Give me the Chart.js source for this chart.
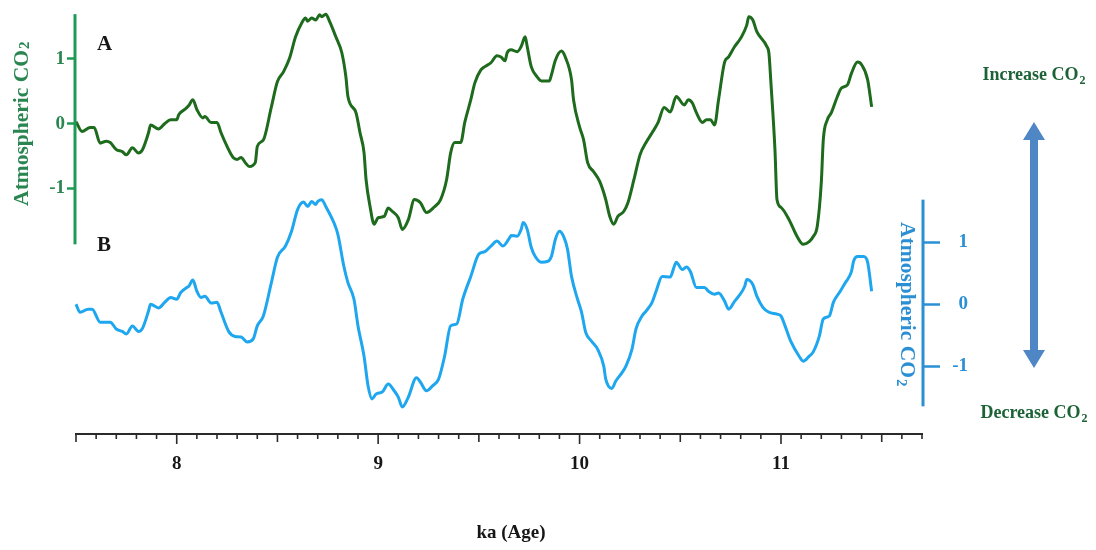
<!DOCTYPE html>
<html>
<head>
<meta charset="utf-8">
<script src="https://cdn.jsdelivr.net/npm/chart.js@4.4.0/dist/chart.umd.min.js"></script>
<style>
  html, body { margin: 0; padding: 0; background: #fff; }
  #wrap { width: 1096px; height: 550px; position: relative; }
</style>
</head>
<body>
<div id="wrap"><canvas id="co2Chart"></canvas></div>
<script>
// record A (green, left axis)
var ageA = [7.50, 7.53, 7.57, 7.59, 7.62, 7.65, 7.67, 7.70, 7.73, 7.75, 7.78, 7.81, 7.83, 7.86, 7.87, 7.91, 7.94, 7.97,
  8.00, 8.01, 8.04, 8.06, 8.08, 8.10, 8.13, 8.14, 8.17, 8.20, 8.22, 8.25, 8.28, 8.30, 8.32, 8.34, 8.36, 8.39, 8.40, 8.43,
  8.47, 8.50, 8.53, 8.56, 8.59, 8.62, 8.64, 8.65, 8.67, 8.69, 8.71, 8.72, 8.74, 8.76, 8.79, 8.82, 8.84, 8.85, 8.89, 8.91,
  8.93, 8.94, 8.96, 8.98, 9.00, 9.03, 9.05, 9.07, 9.10, 9.12, 9.15, 9.18, 9.21, 9.24, 9.28, 9.31, 9.34, 9.36, 9.38, 9.41,
  9.43, 9.46, 9.48, 9.51, 9.53, 9.56, 9.59, 9.61, 9.63, 9.64, 9.66, 9.69, 9.71, 9.73, 9.74, 9.76, 9.79, 9.81, 9.85, 9.86,
  9.88, 9.91, 9.93, 9.96, 9.97, 10.00, 10.02, 10.04, 10.07, 10.10, 10.13, 10.15, 10.17, 10.19, 10.22, 10.24, 10.27, 10.30,
  10.33, 10.36, 10.39, 10.42, 10.45, 10.48, 10.52, 10.54, 10.56, 10.58, 10.61, 10.63, 10.65, 10.67, 10.69, 10.72, 10.74,
  10.77, 10.80, 10.83, 10.84, 10.86, 10.88, 10.93, 10.94, 10.95, 10.97, 10.98, 11.00, 11.04, 11.08, 11.11, 11.14, 11.16,
  11.18, 11.20, 11.21, 11.23, 11.25, 11.28, 11.30, 11.33, 11.35, 11.38, 11.40, 11.43, 11.45];
var co2A = [0.03, -0.12, -0.06, -0.06, -0.30, -0.27, -0.29, -0.40, -0.43, -0.48, -0.37, -0.45, -0.40, -0.14, -0.02, -0.08, 0.00, 0.06,
  0.06, 0.14, 0.22, 0.28, 0.37, 0.22, 0.09, 0.11, 0.02, 0.02, -0.14, -0.35, -0.52, -0.55, -0.52, -0.60, -0.66, -0.60, -0.35, -0.25,
  0.26, 0.65, 0.80, 1.01, 1.34, 1.55, 1.63, 1.58, 1.63, 1.60, 1.68, 1.65, 1.69, 1.57, 1.34, 1.09, 0.72, 0.42, 0.17, -0.14,
  -0.45, -0.86, -1.28, -1.55, -1.45, -1.43, -1.30, -1.35, -1.45, -1.63, -1.48, -1.17, -1.22, -1.37, -1.28, -1.17, -0.86, -0.45, -0.29, -0.29,
  0.02, 0.37, 0.63, 0.83, 0.88, 0.94, 1.05, 1.03, 0.97, 1.09, 1.14, 1.11, 1.19, 1.34, 1.19, 0.88, 0.72, 0.66, 0.66, 0.75,
  0.98, 1.12, 1.02, 0.68, 0.37, -0.05, -0.25, -0.60, -0.74, -0.89, -1.17, -1.43, -1.55, -1.43, -1.35, -1.22, -0.86, -0.48,
  -0.29, -0.14, 0.02, 0.25, 0.18, 0.42, 0.29, 0.37, 0.32, 0.17, 0.02, 0.06, 0.06, -0.02, 0.37, 0.95, 1.03,
  1.19, 1.32, 1.52, 1.65, 1.60, 1.42, 1.19, 1.09, 0.63, -0.40, -1.17, -1.29, -1.48, -1.74, -1.86, -1.82, -1.74,
  -1.58, -0.91, -0.25, 0.06, 0.17, 0.42, 0.55, 0.60, 0.78, 0.95, 0.91, 0.68, 0.26];

// record B (blue, right axis)
var ageB = [7.50, 7.52, 7.56, 7.58, 7.62, 7.65, 7.67, 7.70, 7.73, 7.75, 7.78, 7.81, 7.83, 7.86, 7.87, 7.91, 7.94, 7.97,
  8.00, 8.02, 8.05, 8.06, 8.08, 8.10, 8.12, 8.14, 8.17, 8.20, 8.22, 8.26, 8.29, 8.32, 8.35, 8.38, 8.40, 8.43,
  8.47, 8.50, 8.54, 8.57, 8.60, 8.63, 8.65, 8.67, 8.69, 8.70, 8.72, 8.74, 8.78, 8.80, 8.83, 8.85, 8.88, 8.90,
  8.93, 8.95, 8.97, 8.99, 9.02, 9.05, 9.08, 9.10, 9.12, 9.15, 9.19, 9.21, 9.24, 9.27, 9.30, 9.33, 9.36, 9.39,
  9.42, 9.46, 9.50, 9.53, 9.56, 9.59, 9.62, 9.65, 9.66, 9.69, 9.71, 9.72, 9.74, 9.76, 9.78, 9.81, 9.84, 9.86,
  9.88, 9.90, 9.92, 9.94, 9.96, 9.99, 10.01, 10.03, 10.06, 10.09, 10.12, 10.13, 10.16, 10.18, 10.21, 10.23, 10.26, 10.28,
  10.31, 10.33, 10.36, 10.38, 10.41, 10.45, 10.47, 10.48, 10.51, 10.53, 10.55, 10.58, 10.62, 10.64, 10.67, 10.69, 10.72,
  10.74, 10.77, 10.79, 10.82, 10.83, 10.86, 10.88, 10.91, 10.94, 10.98, 11.00, 11.02, 11.05, 11.09, 11.11, 11.14, 11.16,
  11.19, 11.21, 11.24, 11.26, 11.29, 11.32, 11.35, 11.36, 11.38, 11.41, 11.43, 11.45];
var co2B = [0.00, -0.13, -0.08, -0.08, -0.29, -0.29, -0.29, -0.40, -0.44, -0.48, -0.35, -0.44, -0.39, -0.11, 0.00, -0.06, 0.03, 0.11,
  0.08, 0.19, 0.27, 0.29, 0.39, 0.21, 0.11, 0.13, 0.02, 0.03, -0.13, -0.45, -0.52, -0.53, -0.61, -0.56, -0.35, -0.19,
  0.35, 0.76, 0.94, 1.18, 1.53, 1.65, 1.58, 1.66, 1.61, 1.66, 1.69, 1.58, 1.32, 1.13, 0.61, 0.35, 0.08, -0.35,
  -0.84, -1.32, -1.53, -1.45, -1.42, -1.29, -1.40, -1.50, -1.66, -1.50, -1.19, -1.26, -1.40, -1.32, -1.21, -0.84, -0.35, -0.32,
  0.08, 0.45, 0.81, 0.85, 0.94, 1.02, 0.94, 1.06, 1.11, 1.10, 1.21, 1.32, 1.21, 0.92, 0.77, 0.68, 0.69, 0.77,
  1.05, 1.18, 1.10, 0.89, 0.45, 0.08, -0.13, -0.45, -0.60, -0.73, -1.00, -1.21, -1.36, -1.24, -1.11, -1.00, -0.73, -0.40,
  -0.19, -0.11, 0.03, 0.21, 0.45, 0.44, 0.61, 0.68, 0.56, 0.60, 0.53, 0.27, 0.27, 0.21, 0.16, 0.18, 0.05,
  -0.08, 0.05, 0.13, 0.29, 0.40, 0.32, 0.13, -0.05, -0.13, -0.16, -0.19, -0.35, -0.61, -0.84, -0.92, -0.84, -0.77,
  -0.52, -0.24, -0.19, 0.03, 0.19, 0.35, 0.53, 0.69, 0.77, 0.77, 0.68, 0.21];

var yTickValues = [-1, 0, 1];
var axisSpanA = [-1.86, 1.69];
var axisSpanB = [-1.65, 1.69];

var greenLine = "#1e6b1e";
var greenAxis = "#1f9a56";
var greenText = "#2a8550";
var darkGreenText = "#1d6236";
var blueLine = "#1ea6ef";
var blueAxis = "#2b8fd4";
var arrowBlue = "#4f86c6";

function serif(size) {
  return "bold " + size + 'px "Liberation Serif", "Times New Roman", serif';
}

// text with a small lowered "2"
function subText(ctx, main, sub, x, y, size, drop, align) {
  var small = Math.round(size * 0.68);
  ctx.font = serif(size);
  var w1 = ctx.measureText(main).width;
  ctx.font = serif(small);
  var w2 = ctx.measureText(sub).width;
  var x0 = align === "center" ? x - (w1 + w2 + 1) / 2 : x;
  ctx.textAlign = "left";
  ctx.textBaseline = "alphabetic";
  ctx.font = serif(size);
  ctx.fillText(main, x0, y);
  ctx.font = serif(small);
  ctx.fillText(sub, x0 + w1 + 1, y + drop);
}

var co2Decor = {
  id: "co2Decor",
  afterDraw: function (chart) {
    var ctx = chart.ctx;
    var xs = chart.scales.x;
    var ya = chart.scales.y;
    var yb = chart.scales.y2;
    var area = chart.chartArea;
    ctx.save();

    // partial vertical axes
    ctx.lineCap = "butt";
    ctx.lineWidth = 3;
    ctx.strokeStyle = greenAxis;
    ctx.beginPath();
    ctx.moveTo(ya.right - 1, ya.getPixelForValue(axisSpanA[1]));
    ctx.lineTo(ya.right - 1, ya.getPixelForValue(axisSpanA[0]));
    ctx.stroke();
    ctx.strokeStyle = blueAxis;
    ctx.beginPath();
    ctx.moveTo(yb.left + 1, yb.getPixelForValue(axisSpanB[1]));
    ctx.lineTo(yb.left + 1, yb.getPixelForValue(axisSpanB[0]));
    ctx.stroke();

    // x tick marks: minor 0.1, medium 0.5, major 1
    ctx.strokeStyle = "#2a2a2a";
    ctx.lineWidth = 1.6;
    xs.ticks.forEach(function (t) {
      var px = xs.getPixelForValue(t.value);
      var r = Math.round(t.value * 10);
      var len = r % 10 === 0 ? 10 : r % 5 === 0 ? 8 : 5;
      ctx.beginPath();
      ctx.moveTo(px, xs.top);
      ctx.lineTo(px, xs.top + len);
      ctx.stroke();
    });

    // panel letters
    ctx.fillStyle = "#161616";
    ctx.font = serif(21);
    ctx.textAlign = "left";
    ctx.textBaseline = "alphabetic";
    ctx.fillText("A", area.left + 21, 50);
    ctx.fillText("B", area.left + 21, 251);

    // left axis title
    ctx.fillStyle = greenText;
    ctx.save();
    ctx.translate(28, ya.getPixelForValue(0));
    ctx.rotate(-Math.PI / 2);
    subText(ctx, "Atmospheric CO", "2", 0, 0, 21.5, 1, "center");
    ctx.restore();

    // right axis title
    ctx.fillStyle = blueAxis;
    ctx.save();
    ctx.translate(yb.left - 21, yb.getPixelForValue(0));
    ctx.rotate(Math.PI / 2);
    subText(ctx, "Atmospheric CO", "2", 0, 0, 21.5, 4, "center");
    ctx.restore();

    // x axis title
    ctx.fillStyle = "#161616";
    ctx.font = serif(19);
    ctx.textAlign = "center";
    ctx.fillText("ka (Age)", 511, 538);

    // increase / decrease note with arrow
    var ax = 1034;
    ctx.fillStyle = darkGreenText;
    subText(ctx, "Increase CO", "2", ax, 80, 18, 4, "center");
    subText(ctx, "Decrease CO", "2", ax, 418, 18, 4, "center");

    var top = 122, bottom = 368, shaft = 4, head = 11, headLen = 18;
    ctx.fillStyle = arrowBlue;
    ctx.beginPath();
    ctx.moveTo(ax, top);
    ctx.lineTo(ax + head, top + headLen);
    ctx.lineTo(ax + shaft, top + headLen);
    ctx.lineTo(ax + shaft, bottom - headLen);
    ctx.lineTo(ax + head, bottom - headLen);
    ctx.lineTo(ax, bottom);
    ctx.lineTo(ax - head, bottom - headLen);
    ctx.lineTo(ax - shaft, bottom - headLen);
    ctx.lineTo(ax - shaft, top + headLen);
    ctx.lineTo(ax - head, top + headLen);
    ctx.closePath();
    ctx.fill();

    ctx.restore();
  },
};

function pairUp(xv, yv) {
  return xv.map(function (a, i) {
    return { x: a, y: yv[i] };
  });
}

function noEdgePadding(s) {
  s.paddingTop = 0;
  s.paddingBottom = 0;
}

var ctx = document.getElementById("co2Chart").getContext("2d");
var co2Chart = new Chart(ctx, {
  type: "line",
  data: {
    datasets: [
      {
        label: "A",
        data: pairUp(ageA, co2A),
        yAxisID: "y",
        borderColor: greenLine,
        borderWidth: 3,
        pointRadius: 0,
        cubicInterpolationMode: "monotone",
        fill: false,
        clip: false,
      },
      {
        label: "B",
        data: pairUp(ageB, co2B),
        yAxisID: "y2",
        borderColor: blueLine,
        borderWidth: 3,
        pointRadius: 0,
        cubicInterpolationMode: "monotone",
        fill: false,
        clip: false,
      },
    ],
  },
  options: {
    responsive: true,
    maintainAspectRatio: false,
    animation: false,
    devicePixelRatio: 1,
    layout: { padding: { top: 14, right: 128, left: 0, bottom: 0 } },
    plugins: { legend: { display: false }, tooltip: { enabled: false } },
    scales: {
      x: {
        type: "linear",
        min: 7.5,
        max: 11.7,
        ticks: {
          stepSize: 0.1,
          autoSkip: false,
          maxRotation: 0,
          padding: 19,
          color: "#161616",
          font: { family: '"Liberation Serif", "Times New Roman", serif', size: 19, weight: "bold" },
          callback: function (v) {
            return Math.abs(v - Math.round(v)) < 1e-6 ? String(Math.round(v)) : "";
          },
        },
        grid: { display: false, drawTicks: false },
        border: { display: true, color: "#2a2a2a", width: 2 },
        afterFit: function (s) {
          s.height = 116;
          s.paddingLeft = 0;
          s.paddingRight = 0;
        },
      },
      y: {
        position: "left",
        min: -4.785,
        max: 1.692,
        afterBuildTicks: function (s) {
          s.ticks = yTickValues.map(function (v) {
            return { value: v };
          });
        },
        ticks: {
          padding: 2,
          color: greenText,
          font: { family: '"Liberation Serif", "Times New Roman", serif', size: 19, weight: "bold" },
        },
        grid: { drawOnChartArea: false, drawTicks: true, tickLength: 9, tickColor: greenAxis, tickWidth: 2.5 },
        border: { display: false },
        afterFit: function (s) {
          s.width = 76;
          noEdgePadding(s);
        },
      },
      y2: {
        position: "right",
        min: -2.097,
        max: 4.69,
        afterBuildTicks: function (s) {
          s.ticks = yTickValues.map(function (v) {
            return { value: v };
          });
        },
        ticks: {
          crossAlign: "far",
          padding: 14,
          color: blueAxis,
          font: { family: '"Liberation Serif", "Times New Roman", serif', size: 19, weight: "bold" },
        },
        grid: { drawOnChartArea: false, drawTicks: true, tickLength: 18, tickColor: blueAxis, tickWidth: 2.5 },
        border: { display: false },
        afterFit: function (s) {
          s.width = 46;
          noEdgePadding(s);
        },
      },
    },
  },
  plugins: [co2Decor],
});
</script>
</body>
</html>
